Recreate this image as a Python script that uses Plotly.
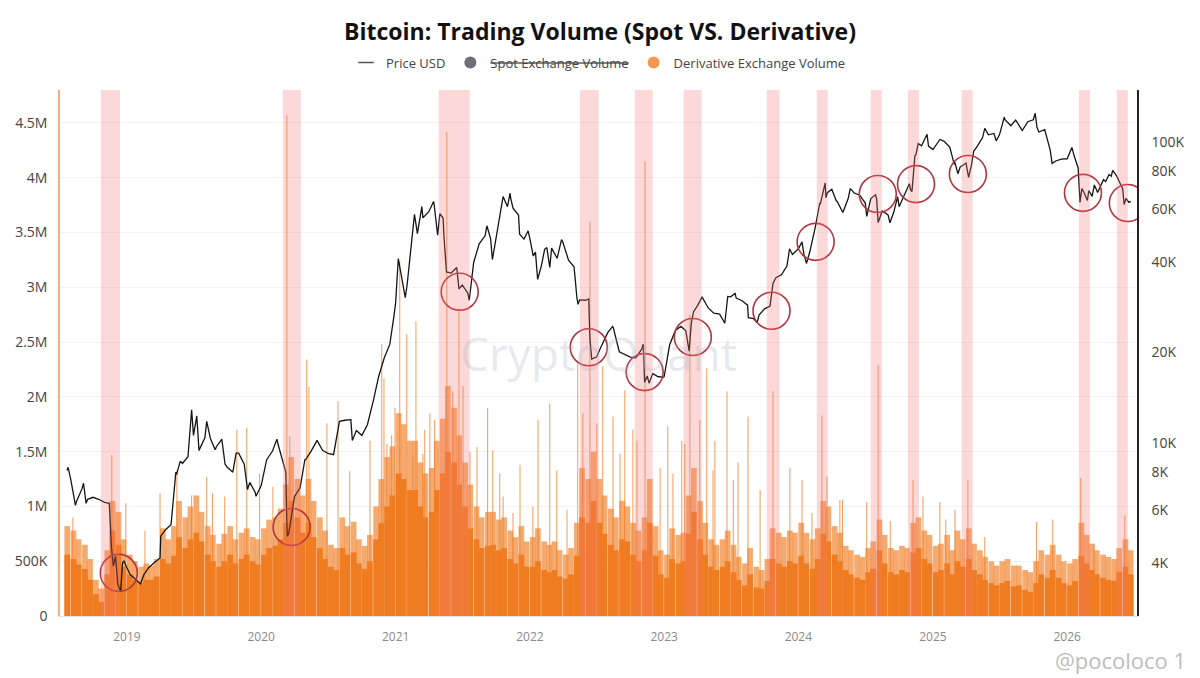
import pandas as pd
import plotly.graph_objects as go

# ---- price USD ----
price_dates = [
    "2018-07-22", "2018-07-25", "2018-08-01", "2018-08-14", "2018-08-16", "2018-09-01", "2018-09-05",
    "2018-09-12", "2018-09-16", "2018-10-01", "2018-10-16", "2018-11-01", "2018-11-14", "2018-11-20",
    "2018-11-25", "2018-12-01", "2018-12-07", "2018-12-15", "2018-12-20", "2018-12-24",
    "2019-01-01", "2019-01-10", "2019-01-16", "2019-02-01", "2019-02-07", "2019-02-16", "2019-03-01",
    "2019-03-16", "2019-04-01", "2019-04-03", "2019-04-16", "2019-05-01", "2019-05-14", "2019-05-16",
    "2019-05-26", "2019-06-01", "2019-06-16", "2019-06-26", "2019-07-01", "2019-07-10", "2019-07-16",
    "2019-08-01", "2019-08-06", "2019-08-16", "2019-08-29", "2019-09-01", "2019-09-16", "2019-09-25",
    "2019-10-01", "2019-10-16", "2019-10-25", "2019-11-01", "2019-11-16", "2019-11-25", "2019-12-01",
    "2019-12-16", "2019-12-18",
    "2020-01-01", "2020-01-16", "2020-02-01", "2020-02-13", "2020-02-16", "2020-03-01", "2020-03-08",
    "2020-03-12", "2020-03-16", "2020-04-01", "2020-04-16", "2020-04-29", "2020-05-01", "2020-05-16",
    "2020-06-01", "2020-06-16", "2020-07-01", "2020-07-16", "2020-08-01", "2020-08-16", "2020-09-01",
    "2020-09-05", "2020-09-16", "2020-10-01", "2020-10-16", "2020-11-01", "2020-11-16", "2020-12-01",
    "2020-12-16", "2020-12-27",
    "2021-01-01", "2021-01-08", "2021-01-16", "2021-01-27", "2021-02-01", "2021-02-16", "2021-02-21",
    "2021-03-01", "2021-03-13", "2021-03-16", "2021-04-01", "2021-04-14", "2021-04-16", "2021-04-25",
    "2021-05-01", "2021-05-10", "2021-05-12", "2021-05-19", "2021-06-01", "2021-06-16", "2021-06-22",
    "2021-07-01", "2021-07-16", "2021-07-20", "2021-08-01", "2021-08-16", "2021-09-01", "2021-09-06",
    "2021-09-16", "2021-09-21", "2021-10-01", "2021-10-16", "2021-10-20", "2021-11-01", "2021-11-08",
    "2021-11-10", "2021-11-16", "2021-12-01", "2021-12-04", "2021-12-16", "2021-12-27",
    "2022-01-01", "2022-01-10", "2022-01-16", "2022-01-22", "2022-02-01", "2022-02-10", "2022-02-16",
    "2022-02-24", "2022-03-01", "2022-03-16", "2022-03-28", "2022-04-01", "2022-04-16", "2022-05-01",
    "2022-05-09", "2022-05-12", "2022-05-16", "2022-06-01", "2022-06-10", "2022-06-13", "2022-06-18",
    "2022-07-01", "2022-07-16", "2022-08-01", "2022-08-14", "2022-08-16", "2022-09-01", "2022-09-16",
    "2022-10-01", "2022-10-16", "2022-11-01", "2022-11-05", "2022-11-09", "2022-11-16", "2022-11-21",
    "2022-12-01", "2022-12-16", "2022-12-31",
    "2023-01-01", "2023-01-16", "2023-02-01", "2023-02-16", "2023-03-01", "2023-03-10", "2023-03-16",
    "2023-03-22", "2023-04-01", "2023-04-14", "2023-04-16", "2023-05-01", "2023-05-16", "2023-06-01",
    "2023-06-15", "2023-06-23", "2023-07-01", "2023-07-13", "2023-07-16", "2023-08-01", "2023-08-16",
    "2023-08-18", "2023-09-01", "2023-09-11", "2023-09-16", "2023-10-01", "2023-10-16", "2023-10-24",
    "2023-11-01", "2023-11-16", "2023-12-01", "2023-12-08", "2023-12-16",
    "2024-01-01", "2024-01-11", "2024-01-16", "2024-01-23", "2024-02-01", "2024-02-16", "2024-02-28",
    "2024-03-01", "2024-03-14", "2024-03-16", "2024-03-20", "2024-04-01", "2024-04-13", "2024-04-16",
    "2024-05-01", "2024-05-16", "2024-05-21", "2024-06-01", "2024-06-16", "2024-07-01", "2024-07-05",
    "2024-07-16", "2024-07-29", "2024-08-01", "2024-08-05", "2024-08-16", "2024-09-01", "2024-09-06",
    "2024-09-16", "2024-09-27", "2024-10-01", "2024-10-16", "2024-10-29", "2024-11-01", "2024-11-05",
    "2024-11-13", "2024-11-16", "2024-11-22", "2024-12-01", "2024-12-16", "2024-12-20",
    "2025-01-01", "2025-01-16", "2025-01-20", "2025-02-01", "2025-02-16", "2025-02-28", "2025-03-01",
    "2025-03-10", "2025-03-16", "2025-04-01", "2025-04-08", "2025-04-16", "2025-04-22", "2025-05-01",
    "2025-05-16", "2025-05-22", "2025-06-01", "2025-06-16", "2025-06-22", "2025-07-01", "2025-07-14",
    "2025-07-16", "2025-08-01", "2025-08-14", "2025-08-16", "2025-09-01", "2025-09-16", "2025-10-01",
    "2025-10-06", "2025-10-11", "2025-10-16", "2025-11-01", "2025-11-16", "2025-11-21", "2025-12-01",
    "2025-12-16",
    "2026-01-01", "2026-01-14", "2026-01-20", "2026-01-31", "2026-02-05", "2026-02-10", "2026-02-16",
    "2026-02-25", "2026-03-01", "2026-03-10", "2026-03-16", "2026-03-25", "2026-04-01", "2026-04-10",
    "2026-04-16", "2026-04-25", "2026-05-01", "2026-05-05", "2026-05-16", "2026-05-25", "2026-06-01",
    "2026-06-05", "2026-06-10", "2026-06-18", "2026-06-23",
]
price_usd = [
    8100, 8300, 7600, 6200, 6350, 7050, 7350, 6300, 6500, 6600, 6500, 6350, 6300, 4500,
    3900, 4200, 3400, 3200, 4000, 4050,
    3850, 3650, 3600, 3450, 3400, 3650, 3850, 4000, 4150, 4900, 5150, 5350, 8000, 7850,
    8700, 8550, 9000, 12900, 10600, 12300, 9450, 10400, 11800, 10350, 9500, 9700, 10300, 8500,
    8300, 8000, 9250, 9250, 8500, 7000, 7400, 6850, 6650,
    7200, 8800, 9400, 10300, 9900, 8550, 8000, 4900, 5000, 6650, 7100, 8800, 8800, 9400,
    10200, 9450, 9230, 9140, 11800, 11900, 11950, 10200, 11000, 10600, 11500, 13800, 16700, 19200,
    21300, 26300,
    29400, 41000, 36100, 30400, 33500, 49200, 57500, 49600, 61000, 56000, 58700, 63500, 61300, 49000,
    57800, 55800, 49000, 37000, 36700, 38300, 32500, 33500, 31500, 29800, 39800, 45900, 48800, 52700,
    47800, 40700, 48200, 60900, 65900, 61000, 67600, 64900, 60300, 57200, 49400, 47600, 50700,
    47700, 41800, 43100, 35000, 38700, 44000, 44600, 38300, 44400, 41100, 47400, 46300, 40500, 38500,
    30200, 28900, 29900, 29800, 30100, 22400, 19000, 19300, 21200, 23300, 24400, 24100, 20100, 19700,
    19300, 19200, 20500, 21300, 15900, 16700, 15800, 17000, 16600, 16550,
    16600, 21200, 23700, 24400, 23600, 20200, 25000, 27300, 28500, 30500, 30300, 28100, 27000, 26800,
    25000, 30700, 30600, 31400, 30300, 29700, 28700, 26100, 25900, 25100, 26600, 27900, 28500, 33900,
    35400, 36200, 38700, 44200, 42300,
    44200, 46600, 42500, 39500, 43100, 52100, 62500, 62400, 73100, 65300, 67900, 69700, 63800, 63400,
    58300, 65200, 70000, 67700, 66600, 62700, 56600, 64900, 66800, 64600, 54000, 59000, 57300, 53900,
    58200, 65800, 61000, 67400, 72700, 69500, 68500, 90000, 91000, 98900, 97200, 106100, 97000,
    94400, 99900, 102000, 100600, 96000, 84300, 86000, 78500, 82600, 85200, 76300, 84000, 93400, 96500,
    103500, 111000, 105700, 106800, 100900, 105700, 121000, 118700, 113300, 118300, 117400, 109200, 116800, 118600,
    124700, 112000, 108000, 110000, 94000, 85000, 86500, 87800,
    88000, 96000, 90000, 82000, 63000, 70000, 68000, 64000, 69000, 66000, 72000, 68000, 71000, 75000,
    74000, 78000, 77000, 80500, 77000, 73000, 70000, 62000, 65000, 63000, 63500,
]

# ---- derivative exchange volume, semi-monthly (thousand BTC) ----
vol_dates = pd.date_range("2018-07-15", "2026-06-15", freq="SMS")
vol_base_k = [
    560, 520, 470, 430, 330, 200, 130, 380, 780, 650, 450,
    380, 330, 300, 330, 330, 360, 520, 480, 550, 720, 620, 700, 760, 680, 560, 500, 450, 500, 560, 480, 520, 560, 500, 470,
    560, 620, 640, 700, 850, 1050, 900, 760, 850, 720, 620, 520, 450, 420, 620, 560, 580, 480, 430, 500, 700, 850, 1000, 1100,
    1300, 1250, 1150, 1150, 1000, 900, 950, 1150, 1300, 1500, 1400, 1200, 1000, 800, 700, 620, 640, 650, 600, 620, 520, 480, 560, 450,
    450, 500, 420, 400, 420, 360, 340, 380, 550, 900, 850, 1050, 850, 750, 650, 600, 700, 680, 560, 500, 600, 850, 550, 380,
    350, 520, 480, 500, 750, 950, 700, 560, 450, 420, 450, 500, 400, 330, 280, 380, 260, 250, 320, 520, 480, 450, 500, 480,
    550, 480, 430, 520, 750, 680, 560, 500, 420, 380, 350, 330, 400, 430, 600, 480, 400, 380, 420, 400, 580, 620, 520, 480,
    400, 420, 480, 380, 500, 450, 520, 420, 380, 330, 300, 280, 300, 320, 270, 280, 240, 220, 300, 380, 350, 420, 350, 300,
    280, 320, 550, 480, 420, 380, 350, 330, 320, 400, 450, 380,
]
vol_high_k = [
    820, 780, 700, 650, 520, 330, 250, 600, 1050, 950, 700,
    560, 500, 450, 480, 460, 520, 800, 700, 820, 1050, 900, 1000, 1100, 950, 820, 740, 660, 750, 820, 700, 760, 800, 720, 700,
    800, 880, 900, 980, 1200, 1450, 1250, 1100, 1250, 1050, 900, 780, 650, 620, 900, 820, 860, 700, 640, 740, 1000, 1250, 1450, 1550,
    1850, 1750, 1600, 1600, 1400, 1300, 1350, 1600, 1800, 2100, 1900, 1650, 1400, 1200, 1000, 900, 950, 950, 880, 900, 780, 720, 820, 680,
    720, 800, 680, 650, 680, 600, 560, 620, 850, 1350, 1250, 1500, 1250, 1100, 980, 900, 1050, 1000, 850, 780, 900, 1250, 820, 600,
    560, 800, 740, 760, 1100, 1350, 1050, 850, 700, 650, 700, 780, 650, 540, 480, 620, 450, 420, 520, 800, 760, 720, 780, 760,
    850, 760, 700, 800, 1050, 1000, 820, 760, 640, 600, 560, 540, 620, 680, 880, 740, 620, 600, 640, 620, 850, 900, 780, 740,
    640, 660, 740, 600, 780, 700, 800, 660, 600, 540, 500, 460, 500, 520, 460, 460, 420, 400, 500, 600, 560, 650, 560, 500,
    480, 520, 850, 740, 660, 600, 560, 540, 520, 620, 700, 600,
]

# ---- single-day volume spikes (thousand BTC) ----
spike_dates = [
    "2018-08-07", "2018-11-21", "2018-12-29", "2019-02-19", "2019-04-01", "2019-05-17", "2019-06-26",
    "2019-08-06", "2019-08-22", "2019-09-24", "2019-10-27", "2019-11-23", "2019-12-28", "2020-02-02",
    "2020-03-11", "2020-03-19", "2020-05-04", "2020-05-10", "2020-06-28", "2020-07-28", "2020-08-29",
    "2020-10-23", "2020-11-24", "2020-11-30", "2020-12-08", "2020-12-21", "2020-12-30", "2021-01-12",
    "2021-01-31", "2021-02-17", "2021-02-25", "2021-03-16", "2021-03-21", "2021-04-04", "2021-04-17",
    "2021-05-20", "2021-06-05", "2021-06-22", "2021-07-03", "2021-07-22", "2021-08-10", "2021-09-08",
    "2021-09-22", "2021-10-11", "2021-10-20", "2021-11-16", "2021-12-05", "2022-01-09", "2022-01-23",
    "2022-02-24", "2022-03-15", "2022-04-12", "2022-05-11", "2022-05-25", "2022-06-13", "2022-07-02",
    "2022-07-18", "2022-08-15", "2022-09-03", "2022-09-16", "2022-10-08", "2022-10-19", "2022-11-10",
    "2022-12-21", "2023-01-11", "2023-01-25", "2023-02-18", "2023-02-26", "2023-03-12", "2023-04-08",
    "2023-04-27", "2023-05-14", "2023-05-19", "2023-06-21", "2023-07-08", "2023-07-21", "2023-08-17",
    "2023-09-19", "2023-10-24", "2023-12-09", "2024-01-11", "2024-02-07", "2024-03-05", "2024-03-19",
    "2024-04-23", "2024-04-30", "2024-07-05", "2024-08-05", "2024-09-07", "2024-11-08", "2024-12-05",
    "2025-01-20", "2025-02-05", "2025-03-02", "2025-04-06", "2025-05-22", "2025-10-10", "2025-11-23",
    "2026-02-07", "2026-03-15", "2026-06-07",
]
spike_k = [
    900, 1470, 1030, 780, 1120, 1330, 1100,
    1270, 1120, 1090, 1700, 1720, 1300, 1180,
    4570, 1640, 2340, 2090, 1760, 1960, 1320,
    1600, 2480, 2170, 1570, 1650, 1900, 3240,
    2570, 1450, 2690, 1480, 1700, 1850, 1790,
    4420, 2050, 2810, 2100, 1500, 1540, 1900,
    1510, 1300, 1090, 940, 1380, 1000, 1790,
    1940, 1330, 970, 2330, 1850, 3600, 1760,
    2280, 1820, 1480, 2060, 1700, 1600, 4150,
    1350, 1730, 1300, 1600, 1570, 2750, 1790,
    2260, 1330, 1600, 2050, 1240, 1400, 1820,
    1150, 2050, 1350, 1240, 940, 1830, 1270,
    1060, 1060, 1040, 2290, 870, 1240, 1090,
    1040, 880, 970, 1240, 720, 860, 880,
    1260, 660, 920,
]

# ---- highlighted periods and circled price points ----
band_start = ["2018-10-22", "2020-02-29", "2021-04-28", "2022-05-17", "2022-10-13", "2023-02-23", "2023-10-07",
              "2024-02-20", "2024-07-16", "2024-10-25", "2025-03-20", "2026-02-02", "2026-05-16"]
band_end = ["2018-12-13", "2020-04-18", "2021-07-21", "2022-07-07", "2022-12-01", "2023-04-13", "2023-11-11",
            "2024-03-21", "2024-08-15", "2024-11-24", "2025-04-19", "2026-03-04", "2026-06-15"]
circle_dates = ["2018-12-10", "2020-03-24", "2021-06-24", "2022-06-10", "2022-11-09", "2023-03-20", "2023-10-20",
                "2024-02-17", "2024-08-04", "2024-11-16", "2025-04-06", "2026-02-13", "2026-06-15"]
circle_price = [3700, 5260, 31800, 20800, 17200, 22500, 27500, 46600, 67200, 72500, 78300, 67800, 62700]

vol_ticks = [0, 500000, 1000000, 1500000, 2000000, 2500000, 3000000, 3500000, 4000000, 4500000]
vol_labels = ["0", "500K", "1M", "1.5M", "2M", "2.5M", "3M", "3.5M", "4M", "4.5M"]
price_ticks = [4000, 6000, 8000, 10000, 20000, 40000, 60000, 80000, 100000]
price_labels = ["4K", "6K", "8K", "10K", "20K", "40K", "60K", "80K", "100K"]
year_ticks = ["2019-01-01", "2020-01-01", "2021-01-01", "2022-01-01", "2023-01-01", "2024-01-01", "2025-01-01", "2026-01-01"]
year_labels = ["2019", "2020", "2021", "2022", "2023", "2024", "2025", "2026"]

DAY = 86400000
ORANGE = "#f07c22"

assert len(vol_dates) == len(vol_base_k) == len(vol_high_k)
assert len(price_dates) == len(price_usd)
assert len(spike_dates) == len(spike_k)

fig = go.Figure()

fig.add_trace(go.Bar(x=vol_dates, y=[v * 1000 for v in vol_high_k], width=15.5 * DAY, offset=0,
                     marker=dict(color="rgba(241,138,55,0.72)", line=dict(width=0)),
                     showlegend=False, hoverinfo="skip"))
fig.add_trace(go.Bar(x=vol_dates, y=[v * 1000 for v in vol_base_k], width=15.5 * DAY, offset=0,
                     marker=dict(color=ORANGE, line=dict(width=0)),
                     name="Derivative Exchange Volume", showlegend=False))
fig.add_trace(go.Bar(x=pd.to_datetime(spike_dates), y=[v * 1000 for v in spike_k], width=2.6 * DAY,
                     offset=-1.3 * DAY, marker=dict(color="rgba(240,125,40,0.8)", line=dict(width=0)),
                     showlegend=False, hoverinfo="skip"))

fig.add_trace(go.Scatter(x=price_dates, y=price_usd, yaxis="y2", mode="lines",
                         line=dict(color="#151515", width=1.3), name="Price USD", showlegend=False))
fig.add_trace(go.Scatter(x=circle_dates, y=circle_price, yaxis="y2", mode="markers",
                         marker=dict(symbol="circle-open", size=37, color="#b3343f", line=dict(width=1.6)),
                         showlegend=False, hoverinfo="skip"))

# legend entries
fig.add_trace(go.Scatter(x=[None], y=[None], mode="markers", name="Price USD",
                         marker=dict(symbol="line-ew-open", size=11, color="#555", line=dict(width=1.5))))
fig.add_trace(go.Scatter(x=[None], y=[None], mode="markers", name="<s>Spot Exchange Volume</s>",
                         marker=dict(symbol="circle", size=12, color="#6c6f79")))
fig.add_trace(go.Scatter(x=[None], y=[None], mode="markers", name="Derivative Exchange Volume",
                         marker=dict(symbol="circle", size=12, color="#f39a50")))

for s, e in zip(band_start, band_end):
    fig.add_shape(type="rect", xref="x", yref="paper", x0=s, x1=e, y0=0, y1=1,
                  fillcolor="rgba(246,120,120,0.28)", line=dict(width=0), layer="above")

fig.add_annotation(text="CryptoQuant", xref="paper", yref="paper", x=0.5, y=0.5, showarrow=False,
                   font=dict(family="Open Sans", size=46, color="rgba(170,178,195,0.28)"))
fig.add_annotation(text="@pocoloco 1", xref="paper", yref="paper", x=1.047, y=-0.084, xanchor="right",
                   yanchor="middle", showarrow=False,
                   font=dict(family="Open Sans", size=22, color="rgba(170,170,170,0.8)"))

fig.update_layout(
    template="none",
    width=1200, height=678,
    margin=dict(l=60, r=63, t=90, b=62),
    paper_bgcolor="white", plot_bgcolor="white",
    font=dict(family="Open Sans", color="#444"),
    barmode="overlay",
    title=dict(text="<b>Bitcoin: Trading Volume (Spot VS. Derivative)</b>", x=0.5, xanchor="center",
               y=0.953, yanchor="middle", font=dict(family="Open Sans", size=23, color="#111")),
    legend=dict(orientation="h", x=0.5, xanchor="center", y=1.052, yanchor="middle",
                font=dict(size=13, color="#444"), itemclick=False, bgcolor="rgba(0,0,0,0)"),
    xaxis=dict(type="date", range=["2018-07-03", "2026-07-10"], tickvals=year_ticks, ticktext=year_labels,
               showgrid=False, zeroline=False, showline=True, linecolor="#e2e2e2",
               tickfont=dict(size=12, color="#8a8a8a"), ticks="", ticklabelstandoff=10),
    yaxis=dict(range=[0, 4800000], tickvals=vol_ticks, ticktext=vol_labels, showgrid=True,
               gridcolor="#f3f3f3", zeroline=False, showline=True, linecolor="#f5b07a", linewidth=1.5,
               tickfont=dict(size=14, color="#444"), ticks="", ticklabelstandoff=8),
    yaxis2=dict(overlaying="y", side="right", type="log", range=[3.425, 5.173], tickvals=price_ticks,
                ticktext=price_labels, showgrid=False, zeroline=False, showline=True, linecolor="#222",
                linewidth=1.5, tickfont=dict(size=14, color="#444"), ticks="", ticklabelstandoff=10),
)

fig.write_html("out.html", config={"displayModeBar": False},
               post_script="document.body.style.margin='0px';")
